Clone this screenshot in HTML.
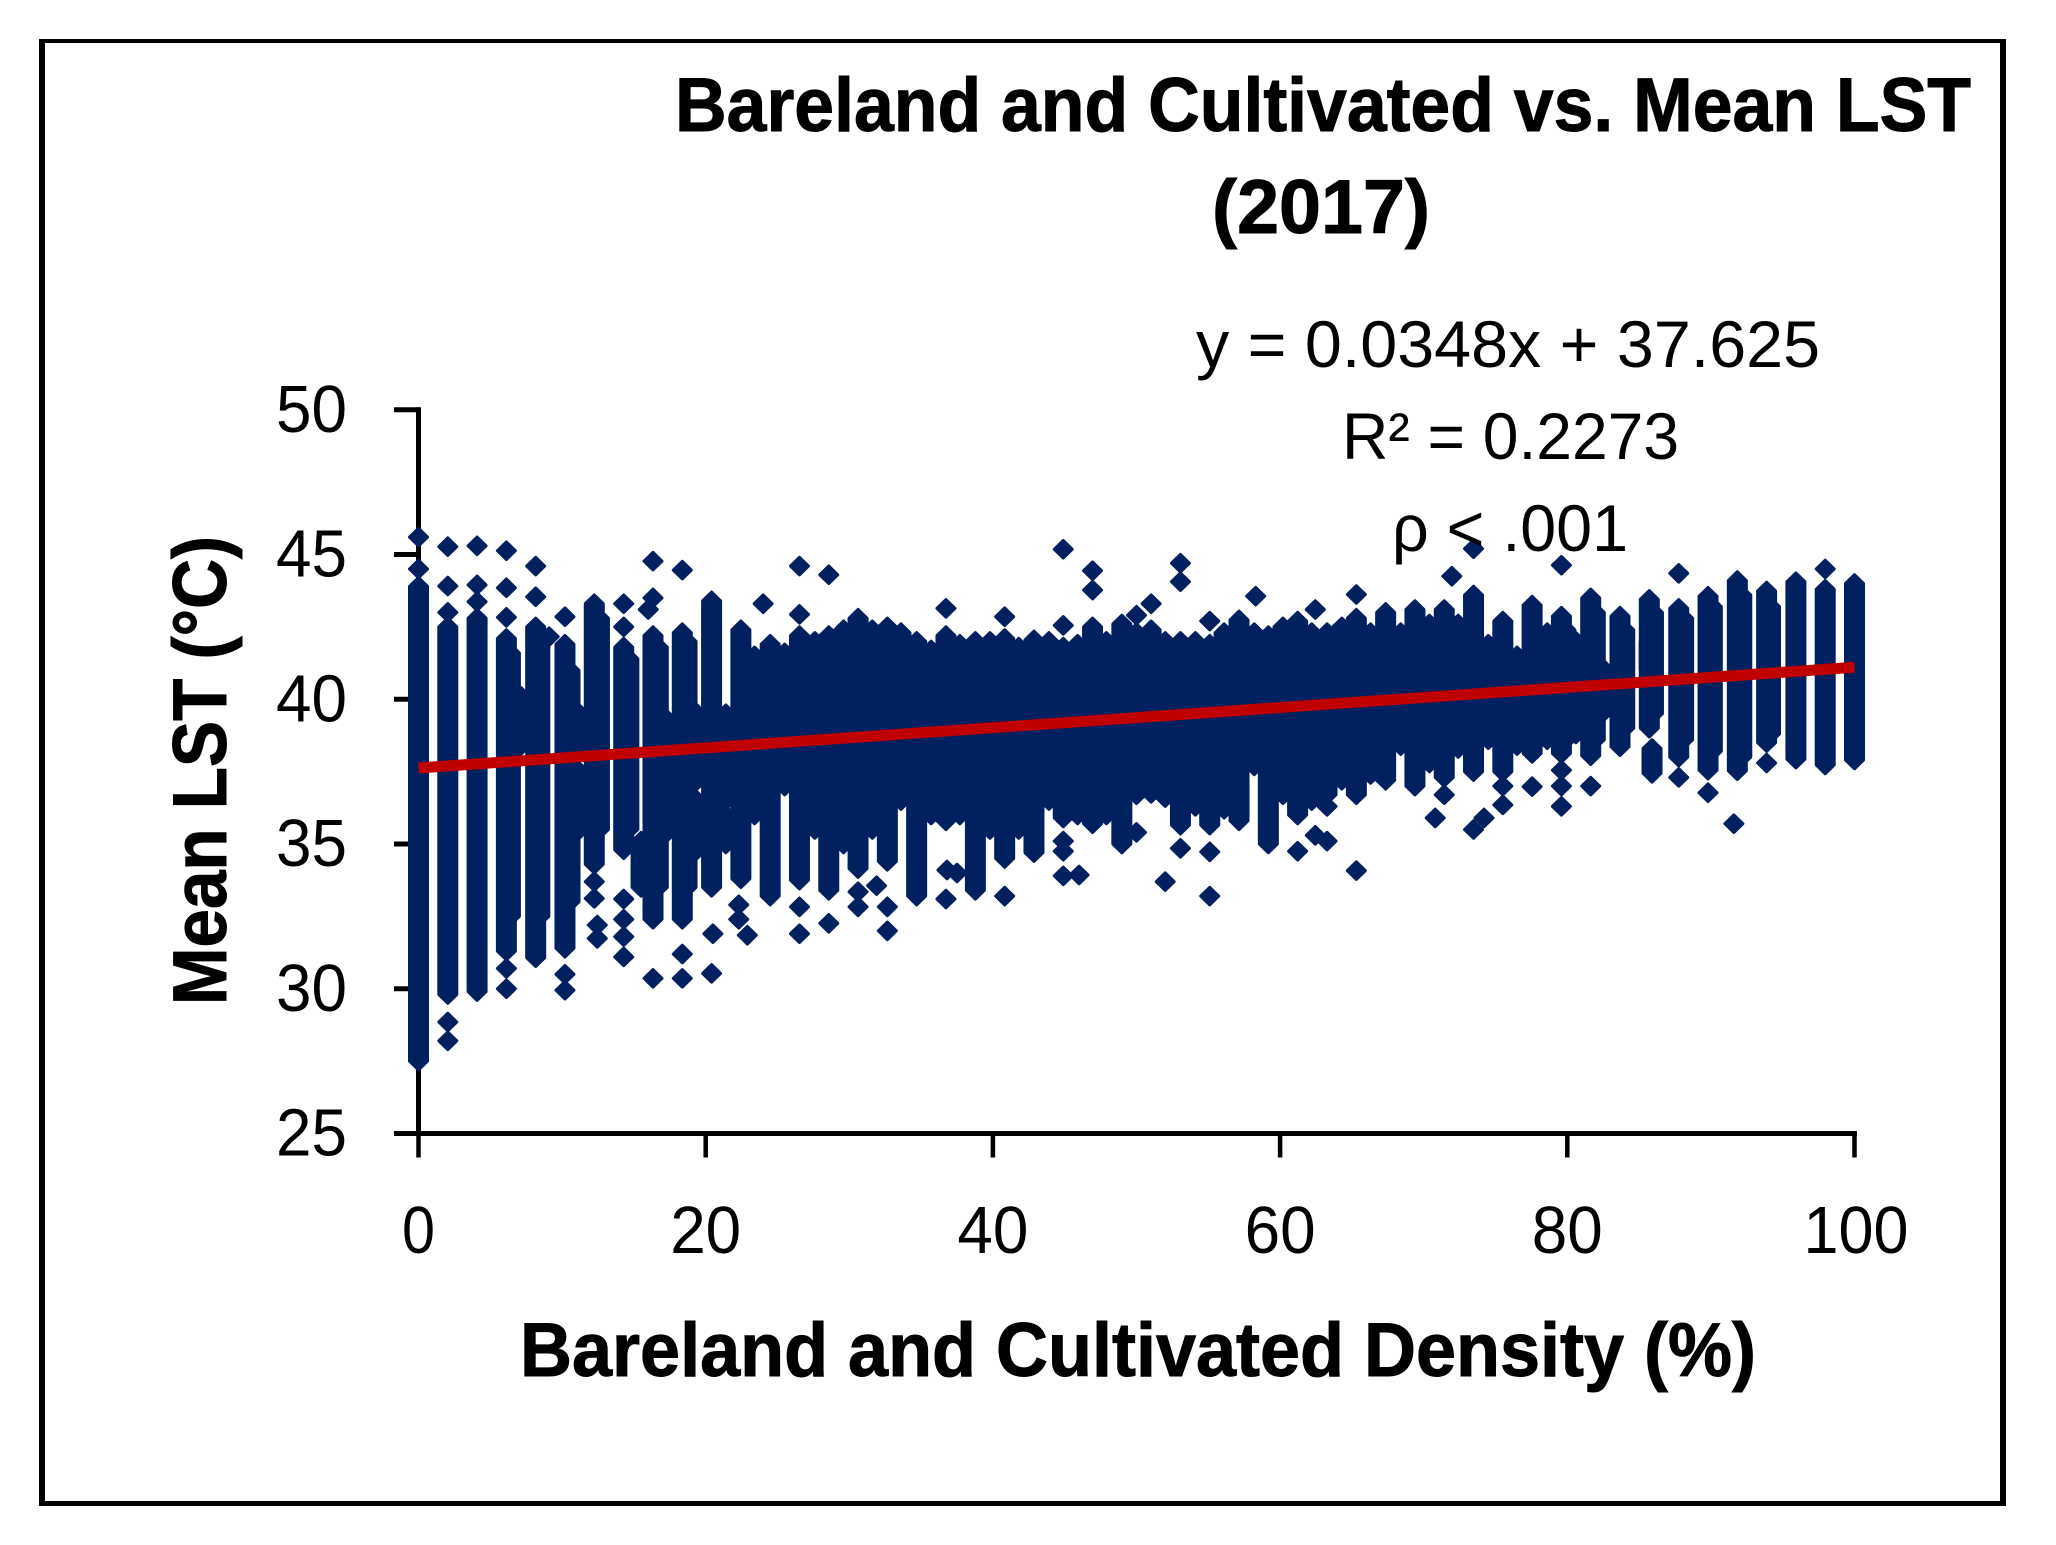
<!DOCTYPE html>
<html lang="en">
<head>
<meta charset="utf-8">
<title>Bareland and Cultivated vs. Mean LST (2017)</title>
<style>
  html, body { margin: 0; padding: 0; background: #fff; }
  svg { display: block; }
  text { font-family: "Liberation Sans", sans-serif; fill: #000; }
</style>
</head>
<body>
<svg id="chart" xmlns="http://www.w3.org/2000/svg" width="2056" height="1545" viewBox="0 0 2056 1545">
  <rect x="0" y="0" width="2056" height="1545" fill="#fff"/>
  <g fill="#000">
    <rect x="39" y="39" width="1967" height="4"/>
    <rect x="39" y="1501" width="1967" height="5"/>
    <rect x="39" y="39" width="6" height="1467"/>
    <rect x="2000" y="39" width="6" height="1467"/>
  </g>
  <g id="axes"></g>
  <g id="marks" fill="#002060" stroke="#002060" stroke-width="3" stroke-linejoin="round"></g>
  <g id="trend"></g>
  <g id="tick-labels"></g>

  <text x="675" y="131" font-size="76" font-weight="700" stroke="#000" stroke-width="1" textLength="1296" lengthAdjust="spacingAndGlyphs">Bareland and Cultivated vs. Mean LST</text>
  <text x="1212" y="233" font-size="76" font-weight="700" stroke="#000" stroke-width="1" textLength="218" lengthAdjust="spacingAndGlyphs">(2017)</text>
  <text x="1196" y="367" font-size="66" textLength="624" lengthAdjust="spacingAndGlyphs">y = 0.0348x + 37.625</text>
  <text x="1342" y="459" font-size="66" textLength="337" lengthAdjust="spacingAndGlyphs">R² = 0.2273</text>
  <text x="1392" y="551" font-size="66" textLength="236" lengthAdjust="spacingAndGlyphs">ρ &lt; .001</text>
  <text x="520" y="1376" font-size="76" font-weight="700" stroke="#000" stroke-width="1" textLength="1236" lengthAdjust="spacingAndGlyphs">Bareland and Cultivated Density (%)</text>
  <text transform="translate(226 1005) rotate(-90)" x="0" y="0" font-size="76" font-weight="700" stroke="#000" stroke-width="1" textLength="469" lengthAdjust="spacingAndGlyphs">Mean LST (°C)</text>
</svg>
<script>
// Axis ticks
const xTicks = [0, 20, 40, 60, 80, 100];
const yTicks = [25, 30, 35, 40, 45, 50];

// Trendline, as printed on the chart
const trendSlope = 0.0348;
const trendIntercept = 37.625;

// Overplotted runs of markers: density %, low and high LST
const runX = [
  0, 2.04, 4.08, 6.12, 8.16, 10.2, 12.24, 14.29, 16.33, 18.37,
  20.41, 22.45, 24.49, 26.53, 28.57, 30.61, 32.65, 34.69, 36.73, 38.78,
  40.82, 42.86, 44.9, 46.94, 48.98, 51.02, 53.06, 55.1, 57.14, 59.18,
  61.22, 63.27, 65.31, 67.35, 69.39, 71.43, 73.47, 75.51, 77.55, 79.59,
  81.63, 83.67, 85.71, 87.76, 89.8, 91.84, 93.88, 95.92, 97.96, 100,
  7.14, 11.2, 11.2, 17.3, 15.5, 19.4, 19.4, 21.4,
  21.4, 21.4, 23.4, 25.5, 27.6, 29.6, 31.6, 33.6, 35.7, 37.7,
  39.8, 41.8, 43.9, 45.9, 47.9, 50, 52, 54.1, 56.1, 58.2,
  60.2, 62.2, 64.3, 66.3, 68.4, 70.4, 72.4, 74.5, 76.5, 78.6,
  80.6, 82.6, 85.9, 85.7,
  6.4, 8.45, 10.55, 12.6, 14.65, 16.7, 18.7,
  79.9, 81.95, 84, 86, 88.1, 90.1, 92.15, 94.15
];
const runLow = [
  27.5, 29.8, 29.9, 31.3, 31.07, 31.4, 34.3, 34.8, 32.4, 32.4,
  33.5, 33.8, 33.2, 33.75, 33.4, 34.15, 34.4, 33.2, 35.8, 33.4,
  34.5, 34.7, 35.9, 35.7, 35, 36.75, 35.65, 35.65, 35.8, 35,
  36, 36.7, 36.7, 37.2, 37, 37.3, 37.5, 37.5, 38.13, 38.13,
  38.05, 38.36, 39, 38, 37.55, 37.53, 38.5, 37.93, 37.73, 37.9,
  38.4, 38.3, 35.5, 35.4, 33.5, 37.2, 34.8, 37.6,
  36.5, 35, 36, 37, 35.5, 35, 35.5, 36.5, 36, 36,
  35.5, 35.5, 36.5, 36, 36, 36.7, 36.6, 36.3, 36.2, 37.7,
  36.7, 36.5, 37.2, 37.4, 38.4, 37.8, 38.3, 38.6, 38.4, 38.6,
  38.8, 39.6, 37.44, 41,
  32.5, 32.5, 33, 35.5, 35.5, 33.5, 33.5,
  38.6, 38.6, 39, 39.5, 38.6, 38.2, 38, 38.8
];
const runHigh = [
  43.9, 42.5, 42.8, 42.1, 42.5, 41.9, 43.3, 41.8, 42.2, 42.3,
  43.4, 42.4, 41.9, 42.2, 42.2, 42.8, 42.5, 42, 42.2, 42,
  42.1, 42.05, 41.8, 42.5, 42.6, 42.4, 42, 41.9, 42.74, 42.2,
  42.7, 42.3, 42.8, 43, 43.1, 43.1, 43.6, 42.7, 43.25, 42.87,
  43.5, 42.87, 43.45, 43.14, 43.56, 44.1, 43.74, 44.06, 43.8, 44,
  40.1, 39.5, 37.5, 39.3, 35.1, 39.5, 36.5, 39.5,
  37.3, 36, 41.5, 41.6, 42, 42.4, 42.4, 42.3, 41.7, 41.9,
  42, 41.8, 42, 41.9, 42, 42.1, 42, 42, 42.3, 42.3,
  42.5, 42.3, 42.5, 42.3, 42.3, 42.6, 42.6, 41.9, 41.5, 42.3,
  42, 41, 38.3, 42,
  41.6, 41.8, 41, 42.8, 41.4, 41.8, 42,
  42.4, 43, 42.4, 43, 42.8, 43.2, 43.6, 43.2
];

// Individually visible markers
const pointX = [
  0, 0,
  2.04, 2.04, 2.04, 2.04, 2.04,
  4.08, 4.08, 4.08,
  6.12, 6.12, 6.12, 6.12, 6.12,
  8.16, 8.16, 9.1,
  10.2, 10.2, 10.2,
  12.24, 12.24, 12.45, 12.45,
  14.29, 14.29, 14.29, 14.29, 14.29, 14.29,
  16.33, 16.33, 16.33, 16,
  18.37, 18.37, 18.37,
  20.5, 20.41,
  22.3, 22.3, 22.9, 24,
  26.53, 26.53, 26.53, 26.53,
  28.57, 28.57,
  30.61, 30.61, 31.9,
  32.65, 32.65,
  36.73, 36.73, 37.5, 36.8,
  40.82, 40.82,
  44.9, 44.9, 44.9, 44.9, 44.9, 46,
  46.94, 46.94,
  50, 50, 50, 51.02,
  53.06, 53.06, 53.06, 52,
  55.1, 55.1, 55.1,
  58.3, 61.22,
  62.45, 62.45, 63.27, 63.27,
  65.31, 65.31,
  71.96, 71.43, 73.47, 73.47, 74.2, 70.8,
  75.51, 75.51, 77.55,
  79.59, 79.59, 79.59, 79.59,
  81.63, 87.76, 87.76, 89.8, 91.6, 93.88, 97.96
];
const pointY = [
  45.6, 44.5,
  45.27, 43.91, 43, 28.85, 28.2,
  45.3, 43.95, 43.37,
  45.13, 43.85, 42.83, 30.7, 30,
  44.6, 43.54, 42.16,
  42.85, 30.5, 29.95,
  33.7, 33.12, 32.2, 31.74,
  43.3, 42.5, 33.1, 32.4, 31.8, 31.1,
  44.77, 43.5, 30.36, 43.1,
  44.46, 31.2, 30.36,
  31.9, 30.53,
  32.9, 32.4, 31.85, 43.3,
  44.6, 42.93, 32.83, 31.9,
  44.3, 32.26,
  33.35, 32.83, 33.56,
  32.83, 32,
  43.14, 33.1, 34, 34.1,
  42.85, 33.2,
  45.18, 42.55, 35.1, 34.75, 33.9, 33.93,
  44.44, 43.77,
  42.9, 42.3, 35.4, 43.3,
  44.7, 44.06, 34.85, 33.7,
  42.7, 34.73, 33.2,
  43.56, 34.75,
  43.1, 35.3, 35.1, 36.3,
  43.62, 34.08,
  44.25, 36.7, 45.2, 35.5, 35.9, 35.9,
  37, 36.35, 36.98,
  44.63, 37.55, 37, 36.3,
  37, 44.35, 37.3, 36.77, 35.7, 37.8, 44.5
];

// Axis functions
const xMin = 0, xMax = 100, xLeft = 418.5, xRight = 1854.5;
const yMin = 25, yMax = 50, yBottom = 1133.5, yTop = 409.75;
function xScale(v) { return xLeft + (v - xMin) / (xMax - xMin) * (xRight - xLeft); }
function yScale(v) { return yBottom - (v - yMin) / (yMax - yMin) * (yBottom - yTop); }

const NS = 'http://www.w3.org/2000/svg';
const axesGroup = document.getElementById('axes');
const marksGroup = document.getElementById('marks');
const trendGroup = document.getElementById('trend');
const labelGroup = document.getElementById('tick-labels');

function make(tag, attrs) {
  const el = document.createElementNS(NS, tag);
  for (const k in attrs) el.setAttribute(k, attrs[k]);
  return el;
}

// Axis lines
const yAxisLine = make('rect', { x: xScale(0) - 2.5, y: yScale(50) - 2.5, width: 5, height: yScale(25) - yScale(50) + 5, fill: '#000' });


axesGroup.appendChild(yAxisLine);

const xAxisLine = make('rect', { x: 394, y: yScale(25) - 2.5, width: xScale(100) + 2.5 - 394, height: 5, fill: '#000' });


axesGroup.appendChild(xAxisLine);

// Y ticks and labels
yTicks.forEach(function (t) {
  const tick = make('rect', { x: 394, y: yScale(t) - 2.5, width: 25, height: 5, fill: '#000' });
  
  
  axesGroup.appendChild(tick);
  const label = make('text', { x: 276, y: yScale(t) + 22, 'font-size': 67, textLength: 71, lengthAdjust: 'spacingAndGlyphs' });
  
  
  label.textContent = String(t);
  labelGroup.appendChild(label);
});

// X ticks and labels
xTicks.forEach(function (t) {
  const tick = make('rect', { x: xScale(t) - 2.25, y: yScale(25), width: 4.5, height: 24, fill: '#000' });
  
  
  axesGroup.appendChild(tick);
  const text = String(t);
  const width = text.length === 1 ? 33 : (text.length === 2 ? 71 : 105);
  const label = make('text', { x: xScale(t) - width / 2 + (t === 100 ? 1.5 : 0), y: 1253, 'font-size': 67, textLength: width, lengthAdjust: 'spacingAndGlyphs' });
  
  
  label.textContent = text;
  labelGroup.appendChild(label);
});

// A run of overlapping diamond markers: one diamond when low equals high
function markerPath(v, low, high) {
  const px = xScale(v), a = yScale(high), b = yScale(low), w = 9, h = 8.8;
  return 'M' + px + ' ' + (a - h) + 'L' + (px + w) + ' ' + a + 'L' + (px + w) + ' ' + b +
         'L' + px + ' ' + (b + h) + 'L' + (px - w) + ' ' + b + 'L' + (px - w) + ' ' + a + 'Z';
}

runX.forEach(function (v, i) {
  const run = make('path', { d: markerPath(v, runLow[i], runHigh[i]) });
  
  
  marksGroup.appendChild(run);
});

pointX.forEach(function (v, i) {
  const point = make('path', { d: markerPath(v, pointY[i], pointY[i]) });
  
  
  marksGroup.appendChild(point);
});

// Linear trendline
const trendLine = make('line', {
  x1: xScale(xMin), y1: yScale(trendIntercept + trendSlope * xMin),
  x2: xScale(xMax), y2: yScale(trendIntercept + trendSlope * xMax),
  stroke: '#C00000', 'stroke-width': 11
});


trendGroup.appendChild(trendLine);
</script>
</body>
</html>
